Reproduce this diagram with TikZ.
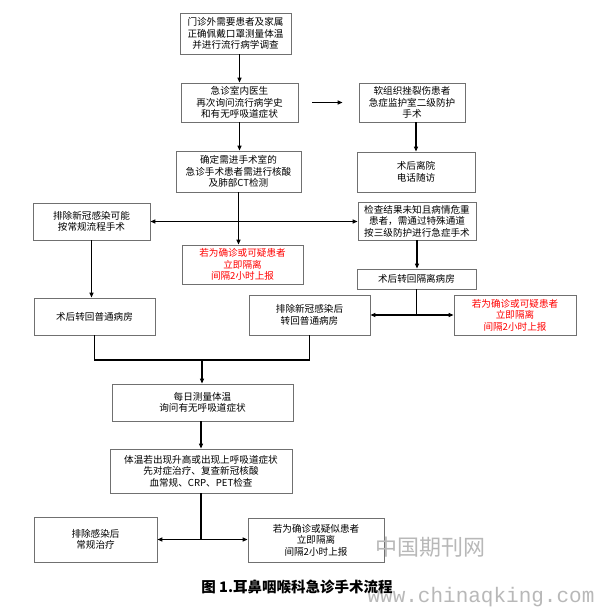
\documentclass[tikz,border=0pt]{standalone}
\usepackage{fontspec}
\newfontfamily\cjk{Noto Sans CJK SC}
\newfontfamily\wmono{Liberation Mono}
\usetikzlibrary{arrows.meta}
\definecolor{boxgray}{HTML}{707070}
\definecolor{wmgray}{HTML}{B8B8B8}
\tikzset{
  box/.style={draw=boxgray, line width=0.8pt, inner sep=0pt, align=center,
    font=\cjk\fontsize{9.6}{11.5}\selectfont, text=black},
  redbox/.style={box, text=red},
  conn/.style={line width=1.2pt, draw=black},
  arr/.style={conn, -{Triangle[length=5pt,width=4pt]}},
  darr/.style={conn, {Triangle[length=5pt,width=4pt]}-{Triangle[length=5pt,width=4pt]}},
}
\begin{document}
\begin{tikzpicture}[x=1pt,y=-1pt]
\useasboundingbox (0,0) rectangle (596,608);
\node[box, minimum width=111pt, minimum height=41pt] (b1) at (235.5,33.5) {门诊外需要患者及家属\\正确佩戴口罩测量体温\\并进行流行病学调查};
\node[box, minimum width=117pt, minimum height=39pt] (b2) at (239.5,102.5) {急诊室内医生\\再次询问流行病学史\\和有无呼吸道症状};
\node[box, minimum width=106pt, minimum height=39pt] (b3) at (412,102.5) {软组织挫裂伤患者\\急症监护室二级防护\\手术};
\node[box, minimum width=125pt, minimum height=41pt] (b4) at (238.5,171.5) {确定需进手术室的\\急诊手术患者需进行核酸\\及肺部CT检测};
\node[box, minimum width=118pt, minimum height=40pt] (b5) at (416,172) {术后离院\\电话随访};
\node[box, minimum width=117pt, minimum height=37pt] (b6) at (91.5,221.5) {排除新冠感染可能\\按常规流程手术};
\node[box, minimum width=118pt, minimum height=38pt] (b7) at (417,221) {检查结果未知且病情危重\\患者，需通过特殊通道\\按三级防护进行急症手术};
\node[redbox, minimum width=121pt, minimum height=39pt] (b8) at (242.5,264.5) {若为确诊或可疑患者\\立即隔离\\间隔2小时上报};
\node[box, minimum width=119pt, minimum height=20pt] (b9) at (416.5,279) {术后转回隔离病房};
\node[box, minimum width=121pt, minimum height=40pt] (b10) at (309.5,315) {排除新冠感染后\\转回普通病房};
\node[redbox, minimum width=122pt, minimum height=40pt] (b11) at (515,315) {若为确诊或可疑患者\\立即隔离\\间隔2小时上报};
\node[box, minimum width=121pt, minimum height=37pt] (b12) at (94.5,316.5) {术后转回普通病房};
\node[box, minimum width=181pt, minimum height=37pt] (b13) at (202.5,402.5) {每日测量体温\\询问有无呼吸道症状};
\node[box, minimum width=182pt, minimum height=44pt] (b14) at (201,471) {体温若出现升高或出现上呼吸道症状\\先对症治疗、复查新冠核酸\\血常规、CRP、PET检查};
\node[box, minimum width=123pt, minimum height=45pt] (b15) at (95.5,539.5) {排除感染后\\常规治疗};
\node[box, minimum width=136pt, minimum height=44pt] (b16) at (316,540) {若为确诊或疑似患者\\立即隔离\\间隔2小时上报};

% connectors
\draw[arr] (b2.north |- b1.south) -- (b2.north);
\draw[arr, shorten <=14pt, shorten >=16pt] (b2.east) -- (b3.west);
\draw[arr] (b2.south) -- (b2.south |- b4.north);
\draw[arr] (b3.south -| b5.north) -- (b5.north);
\draw[arr] (b4.south) -- (b4.south |- b8.north);
\coordinate (j1) at (b4.south |- b6.east);
\draw[arr] (j1) -- (b6.east);
\draw[arr] (j1) -- (b7.west |- j1);
\draw[arr] (b7.south) -- (b7.south |- b9.north);
\coordinate (j2) at (b9.south |- b10.east);
\draw[conn] (b9.south) -- (j2);
\draw[arr] (j2) -- (b10.east);
\draw[arr] (j2) -- (b11.west);
\draw[arr] (b6.south) -- (b6.south |- b12.north);
\coordinate (m) at (202,360);
\draw[conn] (b12.south) -- (b12.south |- m) -- (b10.south |- m) -- (b10.south);
\draw[arr] (m) -- (m |- b13.north);
\draw[arr] (b14.north |- b13.south) -- (b14.north);
\coordinate (j3) at (b14.south |- b15.east);
\draw[conn] (b14.south) -- (j3);
\draw[arr] (j3) -- (b15.east);
\draw[arr] (j3) -- (b16.west |- j3);

% caption and watermark
\node[text=wmgray, font=\cjk\fontsize{22}{24}\selectfont] (wm1) at (430,547) {中国期刊网};
\node[text=wmgray, font=\wmono\fontsize{21}{24}\selectfont] (wm2) at (481,597) {www.chinaqking.com};
\node[font=\cjk\bfseries\fontsize{14.5}{16}\selectfont] (cap) at (297,587) {图 1.耳鼻咽喉科急诊手术流程};
\end{tikzpicture}
\end{document}
